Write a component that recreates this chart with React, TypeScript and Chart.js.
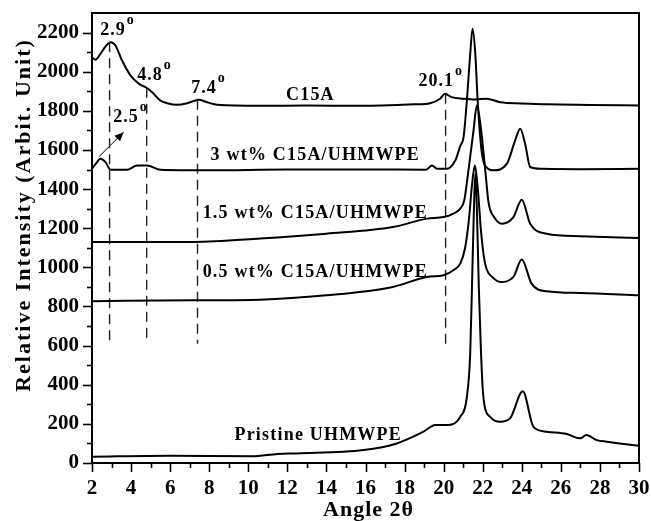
import { useEffect, useRef } from "react";
import { Chart, registerables } from "chart.js";

Chart.register(...registerables);

const FONT = '"Liberation Serif", "Times New Roman", serif';

// ---- series data (angle 2θ, relative intensity) ----
const c15aAngle = [2.0, 2.18, 2.43, 2.7, 2.95, 3.2, 3.54, 3.97, 4.4, 4.79, 5.08, 5.5, 5.85, 6.36, 6.87, 7.2, 7.46, 7.89, 8.4, 10.6, 13, 15.7, 16.8, 18.5, 19.3, 19.82, 20.07, 20.4, 21.0, 21.6, 22.2, 22.9, 24, 25.3, 27.5, 30];
const c15aIntensity = [2074, 2061, 2091, 2130, 2151, 2134, 2057, 1981, 1938, 1918, 1895, 1853, 1839, 1831, 1839, 1850, 1856, 1844, 1831, 1826, 1827, 1826, 1827, 1833, 1839, 1862, 1887, 1870, 1862, 1858, 1862, 1844, 1838, 1833, 1830, 1827];

const wt3Angle = [2.0, 2.2, 2.43, 2.69, 2.95, 3.8, 4.31, 4.82, 5.5, 8, 12, 16, 19.1, 19.4, 19.66, 20.17, 20.6, 20.85, 21.02, 21.19, 21.36, 21.48, 21.62, 21.75, 21.96, 22.2, 22.55, 23.24, 23.66, 23.92, 24.17, 24.43, 25, 27, 30];
const wt3Intensity = [1504, 1530, 1555, 1538, 1499, 1499, 1521, 1521, 1499, 1496, 1500, 1500, 1499, 1521, 1504, 1504, 1547, 1620, 1666, 1853, 2091, 2219, 2091, 1837, 1581, 1510, 1496, 1530, 1649, 1709, 1632, 1513, 1504, 1502, 1504];

const wt15Angle = [2.0, 5, 7.2, 10.6, 14.0, 17.4, 19.15, 20.0, 20.5, 20.85, 21.05, 21.27, 21.53, 21.7, 21.92, 22.13, 22.3, 22.6, 22.98, 23.57, 24.0, 24.43, 25.28, 26.99, 30];
const wt15Intensity = [1130, 1130, 1130, 1147, 1172, 1206, 1249, 1257, 1275, 1300, 1340, 1496, 1700, 1827, 1700, 1496, 1330, 1255, 1223, 1257, 1346, 1223, 1172, 1159, 1150];

const wt05Angle = [2.0, 7.2, 10.6, 14.0, 17.4, 19.15, 20.0, 20.5, 20.85, 21.1, 21.3, 21.45, 21.6, 21.75, 21.9, 22.05, 22.2, 22.5, 22.9, 23.57, 24.0, 24.5, 25.28, 27.0, 30];
const wt05Intensity = [827, 832, 835, 857, 900, 951, 960, 985, 1019, 1100, 1250, 1420, 1521, 1400, 1200, 1060, 990, 950, 925, 951, 1040, 917, 878, 869, 857];

const pristineAngle = [2.0, 5.9, 10.2, 11.5, 12.5, 15.9, 17.6, 18.97, 19.57, 20.17, 20.85, 21.19, 21.36, 21.45, 21.55, 21.62, 21.7, 21.8, 21.9, 22.0, 22.1, 22.38, 22.9, 23.4, 24.05, 24.6, 25.28, 26.3, 26.99, 27.3, 27.84, 28.35, 30];
const pristineIntensity = [32, 37, 34, 46, 49, 66, 100, 160, 194, 194, 236, 338, 560, 900, 1300, 1480, 1300, 900, 600, 380, 290, 236, 211, 228, 367, 185, 160, 148, 126, 143, 117, 109, 88];

// ---- peak markers (dashed lines) ----
const markerAngles = [2.9, 4.8, 7.4, 20.1];
const markerTops = [2151, 1918, 1856, 1887];
const markerBottom = 610;

// arrow for the 2.5° peak
const arrowFrom = { x: 2.35, y: 1565 };
const arrowTo = { x: 3.62, y: 1691 };

// ---- annotation texts (x, baseline y) ----
const peakLabels = ["2.9", "4.8", "7.4", "20.1", "2.5"];
const peakLabelX = [3.31, 5.2, 7.96, 19.85, 3.97];
const peakLabelY = [2188, 1958, 1891, 1927, 1743];

const seriesLabels = ["C15A", "3 wt% C15A/UHMWPE", "1.5 wt% C15A/UHMWPE", "0.5 wt% C15A/UHMWPE", "Pristine UHMWPE"];
const seriesLabelX = [13.18, 13.43, 13.43, 13.43, 13.58];
const seriesLabelY = [1855, 1549, 1252, 951, 118];

const xAxisTitle = "Angle 2\u03B8";
const yAxisTitle = "Relative Intensity (Arbit. Unit)";

const xMin = 2, xMax = 30, xStep = 2, xMinorStep = 1;
const yMin = 0, yMax = 2300, yStep = 200, yMinorStep = 100, yTickTop = 2200;

const zip = (xs: number[], ys: number[]) => xs.map((x, i) => ({ x, y: ys[i] }));

function drawSpaced(ctx: CanvasRenderingContext2D, text: string, cx: number, by: number, size: number, spacing: number, sup?: boolean) {
  ctx.font = `bold ${size}px ${FONT}`;
  (ctx as any).letterSpacing = `${spacing}px`;
  const w = ctx.measureText(text).width;
  let supW = 0;
  if (sup) {
    ctx.font = `bold ${Math.round(size * 0.8)}px ${FONT}`;
    supW = ctx.measureText("o").width + 1;
    ctx.font = `bold ${size}px ${FONT}`;
  }
  const total = w + supW;
  const x0 = cx - total / 2;
  ctx.textAlign = "left";
  ctx.textBaseline = "alphabetic";
  ctx.fillText(text, x0, by);
  if (sup) {
    ctx.font = `bold ${Math.round(size * 0.8)}px ${FONT}`;
    ctx.fillText("o", x0 + w + 1, by - size * 0.62);
  }
  (ctx as any).letterSpacing = "0px";
}

const decorPlugin = {
  id: "decor",
  afterDraw(chart: any) {
    const ctx: CanvasRenderingContext2D = chart.ctx;
    const { left, right, top, bottom } = chart.chartArea;
    const xs = chart.scales.x;
    const ys = chart.scales.y;
    ctx.save();
    ctx.strokeStyle = "#000";
    ctx.fillStyle = "#000";
    ctx.lineWidth = 2;
    ctx.strokeRect(left, top, right - left, bottom - top);

    // tick marks
    ctx.lineWidth = 1.6;
    for (let v = xMin; v <= xMax + 1e-9; v += xMinorStep) {
      const px = Math.round(xs.getPixelForValue(v)) + 0.5;
      const len = Math.abs((v - xMin) % xStep) < 1e-9 ? 9 : 5;
      ctx.beginPath();
      ctx.moveTo(px, bottom);
      ctx.lineTo(px, bottom + len);
      ctx.stroke();
    }
    for (let v = yMin; v <= yTickTop + 1e-9; v += yMinorStep) {
      const py = Math.round(ys.getPixelForValue(v)) + 0.5;
      const len = Math.abs(v % yStep) < 1e-9 ? 9 : 5;
      ctx.beginPath();
      ctx.moveTo(left, py);
      ctx.lineTo(left - len, py);
      ctx.stroke();
    }

    // arrow head
    const ax0 = xs.getPixelForValue(arrowFrom.x), ay0 = ys.getPixelForValue(arrowFrom.y);
    const ax1 = xs.getPixelForValue(arrowTo.x), ay1 = ys.getPixelForValue(arrowTo.y);
    const ang = Math.atan2(ay1 - ay0, ax1 - ax0);
    const hl = 9, hw = 4;
    ctx.beginPath();
    ctx.moveTo(ax1, ay1);
    ctx.lineTo(ax1 - hl * Math.cos(ang) + hw * Math.sin(ang), ay1 - hl * Math.sin(ang) - hw * Math.cos(ang));
    ctx.lineTo(ax1 - hl * Math.cos(ang) - hw * Math.sin(ang), ay1 - hl * Math.sin(ang) + hw * Math.cos(ang));
    ctx.closePath();
    ctx.fill();

    // peak labels
    peakLabels.forEach((t, i) => {
      drawSpaced(ctx, t, xs.getPixelForValue(peakLabelX[i]), ys.getPixelForValue(peakLabelY[i]), 18, 1, true);
    });
    // series labels
    seriesLabels.forEach((t, i) => {
      drawSpaced(ctx, t, xs.getPixelForValue(seriesLabelX[i]), ys.getPixelForValue(seriesLabelY[i]), 18, 1.2);
    });

    // axis titles
    drawSpaced(ctx, xAxisTitle, (left + right) / 2 + 3, 516, 22, 1);
    ctx.save();
    ctx.translate(30, (top + bottom) / 2 - 23);
    ctx.rotate(-Math.PI / 2);
    drawSpaced(ctx, yAxisTitle, 0, 0, 22, 2);
    ctx.restore();
    ctx.restore();
  },
};

export default function App() {
  const ref = useRef<HTMLCanvasElement | null>(null);
  useEffect(() => {
    if (!ref.current) return;
    const line = (data: { x: number; y: number }[]) => ({
      data,
      borderColor: "#000",
      borderWidth: 2,
      pointRadius: 0,
      cubicInterpolationMode: "monotone" as const,
      fill: false,
    });
    const dashed = (data: { x: number; y: number }[]) => ({
      data,
      borderColor: "#222",
      borderWidth: 1.4,
      borderDash: [10, 6],
      pointRadius: 0,
      fill: false,
    });
    const datasets: any[] = [
      line(zip(c15aAngle, c15aIntensity)),
      line(zip(wt3Angle, wt3Intensity)),
      line(zip(wt15Angle, wt15Intensity)),
      line(zip(wt05Angle, wt05Intensity)),
      line(zip(pristineAngle, pristineIntensity)),
      ...markerAngles.map((a, i) => dashed([{ x: a, y: markerTops[i] }, { x: a, y: markerBottom }])),
      { data: [arrowFrom, arrowTo], borderColor: "#000", borderWidth: 1, pointRadius: 0, fill: false },
    ];
    const chart = new Chart(ref.current, {
      type: "line",
      data: { datasets },
      options: {
        animation: false,
        responsive: false,
        events: [],
        layout: { padding: { top: 13, right: 12, left: 0, bottom: 0 } },
        plugins: { legend: { display: false }, tooltip: { enabled: false } },
        scales: {
          x: {
            type: "linear",
            min: xMin,
            max: xMax,
            grid: { display: false, drawTicks: false, tickLength: 0 },
            border: { display: false },
            ticks: { stepSize: xStep, color: "#000", font: { family: FONT, size: 21, weight: "bold" }, padding: 13, maxRotation: 0, includeBounds: false, callback: (v: any) => String(v) },
            afterFit: (s: any) => { s.height = 58; s.paddingLeft = 0; s.paddingRight = 0; },
          },
          y: {
            type: "linear",
            min: yMin,
            max: yMax,
            grid: { display: false, drawTicks: false, tickLength: 0 },
            border: { display: false },
            ticks: { stepSize: yStep, color: "#000", font: { family: FONT, size: 21, weight: "bold" }, padding: 13, includeBounds: false, callback: (v: any) => String(v) },
            afterFit: (s: any) => { s.width = 92; s.paddingTop = 0; s.paddingBottom = 0; },
          },
        },
      },
      plugins: [decorPlugin],
    });
    return () => chart.destroy();
  }, []);
  return (
    <canvas
      ref={ref}
      width={651}
      height={521}
      style={{ position: "absolute", left: 0, top: 0, width: 651, height: 521, background: "#fff" }}
    />
  );
}
